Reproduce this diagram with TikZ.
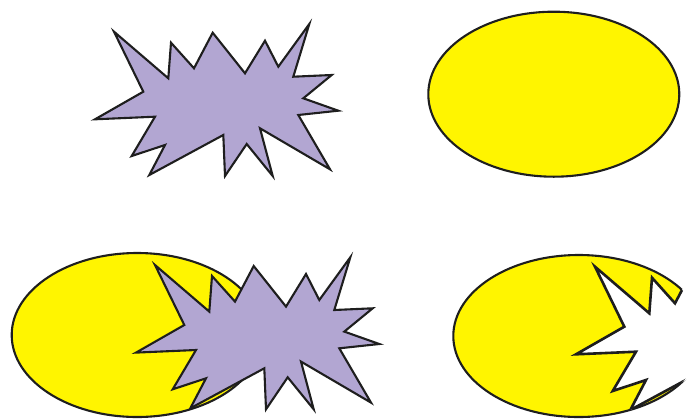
\documentclass[tikz,border=0pt]{standalone}
\definecolor{lav}{RGB}{178,166,210}
\definecolor{yel}{RGB}{255,245,0}
\definecolor{ink}{RGB}{30,30,30}
\tikzset{
 burst/.style={insert path={(114,31.7) -- (168.3,78.3) -- (171,42.7) -- (194,68.3) -- (212.7,32.7) -- (245,73.3) -- (265,40.7) -- (278.3,66.7) -- (309.3,24) -- (293.3,76.7) -- (331.7,75) -- (303.3,98.3) -- (338.3,110.7) -- (298.3,115) -- (330,169.3) -- (260,128.3) -- (272.7,176) -- (246.7,144) -- (225,176) -- (223.3,135) -- (149.3,175) -- (165,145) -- (131.7,156) -- (155,116.7) -- (95,119.3) -- (143.3,91.7) -- cycle}},
 outl/.style={draw=ink, line width=2.1pt, line join=miter},
 ovalA/.style={insert path={(553.8,94.2) ellipse [x radius=125.5, y radius=82.5]}},
 ovalB/.style={insert path={(137.2,335) ellipse [x radius=125.5, y radius=82]}},
 ovalC/.style={insert path={(578.8,336) ellipse [x radius=125.5, y radius=81]}},
}
\begin{document}
\begin{tikzpicture}[x=1pt,y=-1pt]
\useasboundingbox (0,0) rectangle (687,418);
\clip (0,0) rectangle (687,418);
% top-left burst
\path[outl, fill=lav, burst];
% top-right ellipse
\path[outl, fill=yel, ovalA];
% bottom-left: burst over ellipse
\path[outl, fill=yel, ovalB];
\begin{scope}[shift={(41,233.3)}]
\path[outl, fill=lav, burst];
\end{scope}
% bottom-right: ellipse minus burst
\path[outl, fill=yel, ovalC];
\begin{scope}[shift={(481,235)}]
\fill[white, burst];
\end{scope}
\begin{scope}
\clip[ovalC];
\begin{scope}[shift={(481,235)}]
\path[outl, line width=2.6pt, burst];
\end{scope}
\end{scope}
\end{tikzpicture}
\end{document}
